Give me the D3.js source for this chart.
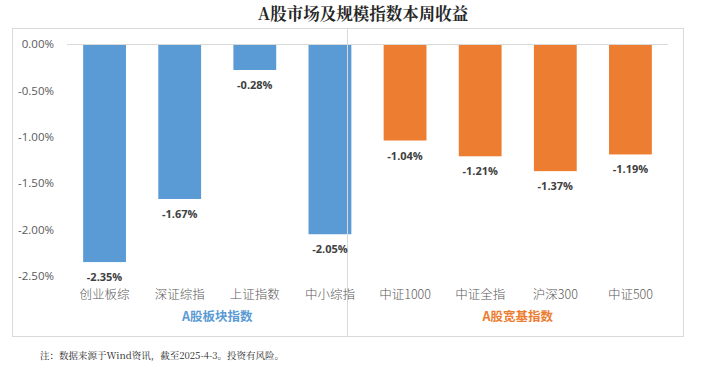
<!DOCTYPE html>
<html><head><meta charset="utf-8">
<script src="https://cdn.jsdelivr.net/npm/d3@7/dist/d3.min.js"></script>
<style>
body{margin:0;background:#fff;}
svg{display:block;font-family:"Noto Sans CJK SC","Noto Sans",sans-serif;}
</style></head>
<body><svg id="c" width="702" height="367"></svg>
<script>
const title = "A股市场及规模指数本周收益";
const categories = ["创业板综","深证综指","上证指数","中小综指","中证1000","中证全指","沪深300","中证500"];
const values = [-2.35,-1.67,-0.28,-2.05,-1.04,-1.21,-1.37,-1.19];
const groups = ["A股板块指数","A股板块指数","A股板块指数","A股板块指数","A股宽基指数","A股宽基指数","A股宽基指数","A股宽基指数"];
const groupNames = ["A股板块指数","A股宽基指数"];
const groupColors = ["#5b9bd5","#ed7d31"];
const yTicks = [0,-0.5,-1,-1.5,-2,-2.5];
const note = "注：数据来源于Wind资讯，截至2025-4-3。投资有风险。";

const loc = d3.formatLocale({decimal:".",thousands:",",grouping:[3],currency:["",""],minus:"-"});
const fmt = loc.format(".2f");

const svg = d3.select("#c");
const color = d3.scaleOrdinal().domain(groupNames).range(groupColors);
const x = d3.scaleBand().domain(categories).range([67,668]).paddingInner(0.43).paddingOuter(0.215);
const y = d3.scaleLinear().domain([-2.5,0]).range([276,44]);

// frame
svg.append("rect").attr("x",12.5).attr("y",28.5).attr("width",671).attr("height",308)
  .attr("fill","none").attr("stroke","#d9d9d9").attr("stroke-width",1);

// title
svg.append("text").attr("x",363).attr("y",20).attr("text-anchor","middle")
  .attr("font-size",16.5).attr("font-weight","bold").attr("fill","#262626")
  .attr("font-family","'Noto Serif CJK SC','Noto Sans CJK SC',serif").text(title);

// y axis
const yAxis = d3.axisLeft(y).tickValues(yTicks).tickSize(0).tickPadding(0)
  .tickFormat(d => fmt(d) + "%");
const ya = svg.append("g").attr("transform","translate(54,0)").call(yAxis);
ya.select(".domain").remove();
ya.selectAll("text").attr("font-size",11.5).attr("fill","#595959")
  .attr("font-family","'Open Sans','Noto Sans',sans-serif");

// zero line
svg.append("line").attr("x1",67).attr("x2",668).attr("y1",y(0)+0.5).attr("y2",y(0)+0.5)
  .attr("stroke","#d9d9d9").attr("stroke-width",1);

// bars
svg.selectAll("rect.bar").data(categories).enter().append("rect").attr("class","bar")
  .attr("x",d=>x(d)).attr("width",x.bandwidth())
  .attr("y",y(0)+1).attr("height",(d,i)=>y(values[i])-y(0)-1)
  .attr("fill",(d,i)=>color(groups[i]));

// divider
const divX = (x(categories[3])+x.bandwidth()+x(categories[4]))/2 - 20;
svg.append("line").attr("x1",divX).attr("x2",divX).attr("y1",29).attr("y2",336)
  .attr("stroke","#d9d9d9").attr("stroke-width",1);

// value labels
svg.selectAll("text.val").data(categories).enter().append("text").attr("class","val")
  .attr("x",d=>x(d)+x.bandwidth()/2).attr("y",(d,i)=>y(values[i])+19)
  .attr("text-anchor","middle").attr("font-size",11).attr("font-weight","bold")
  .attr("fill","#404040").attr("font-family","'Open Sans','Noto Sans',sans-serif")
  .text((d,i)=>fmt(values[i])+"%");

// category labels
const xa = svg.append("g").attr("transform","translate(0,295)")
  .call(d3.axisBottom(x).tickSize(0).tickPadding(0));
xa.select(".domain").remove();
xa.selectAll("text").attr("font-size",12.5).attr("fill","#595959").attr("dy","0.35em")
  .attr("font-weight",300)
  .attr("font-family","'Noto Sans CJK SC',sans-serif");

// group labels
groupNames.forEach((g,gi)=>{
  const cats = categories.filter((c,i)=>groups[i]===g);
  const cx = (x(cats[0]) + x(cats[cats.length-1]) + x.bandwidth())/2;
  svg.append("text").attr("x",cx).attr("y",321).attr("text-anchor","middle")
    .attr("font-size",12.5).attr("font-weight","bold").attr("fill",groupColors[gi])
    .text(g);
});

// note
svg.append("text").attr("x",40).attr("y",359).attr("font-size",9.5).attr("fill","#262626")
  .attr("font-family","'Noto Serif CJK SC','Noto Sans CJK SC',serif").text(note);
</script></body></html>
